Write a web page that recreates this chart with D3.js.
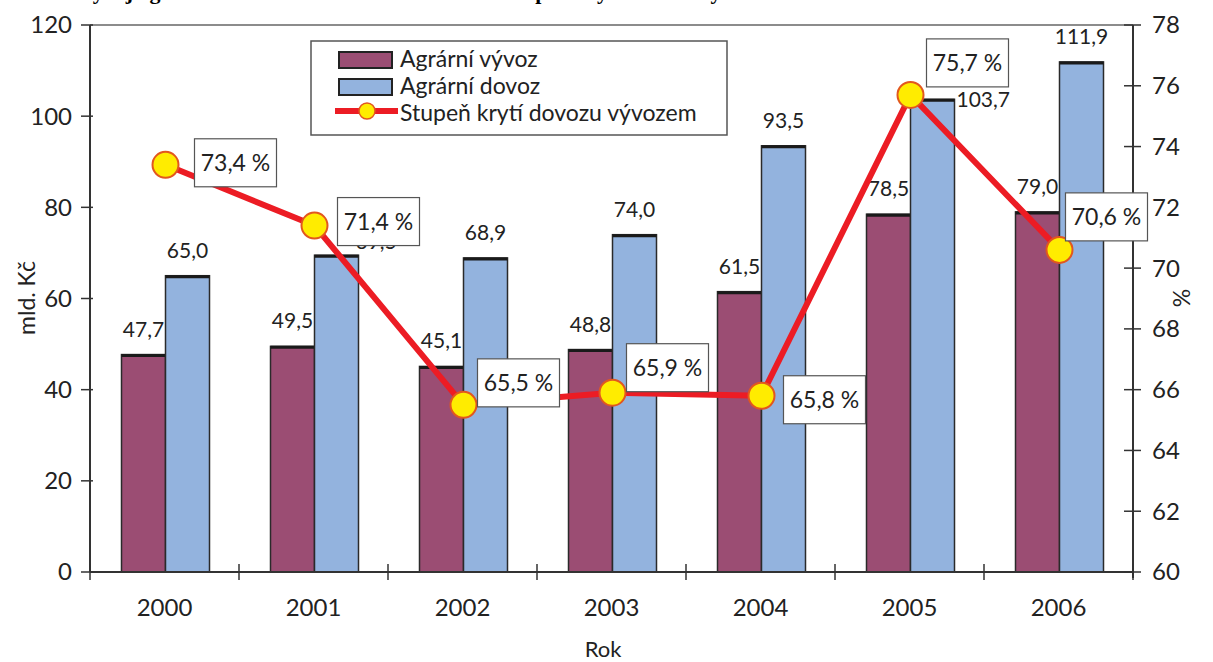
<!DOCTYPE html>
<html>
<head>
<meta charset="utf-8">
<script src="https://cdn.jsdelivr.net/npm/d3@7"></script>
<style>
  html, body { margin: 0; padding: 0; background: #fff; }
  svg { display: block; font-family: Lato, "Open Sans", sans-serif; }
</style>
</head>
<body>
<svg id="chart" width="1213" height="662"></svg>
<script>
// Chart data
const years = ['2000', '2001', '2002', '2003', '2004', '2005', '2006'];
const vyvoz = [47.7, 49.5, 45.1, 48.8, 61.5, 78.5, 79.0];
const dovoz = [65.0, 69.5, 68.9, 74.0, 93.5, 103.7, 111.9];
const kryti = [73.4, 71.4, 65.5, 65.9, 65.8, 75.7, 70.6];
const leftTicks = [0, 20, 40, 60, 80, 100, 120];
const rightTicks = [60, 62, 64, 66, 68, 70, 72, 74, 76, 78];
const seriesNames = ['Agrární vývoz', 'Agrární dovoz', 'Stupeň krytí dovozu vývozem'];

// Layout: where each percent box sits relative to its marker
const boxShift = [[70, -2], [64, -4], [55, -22], [55, -25], [63, 4], [57, -32], [47, -33]];

const colVyvoz = '#9b4d73';
const colDovoz = '#93b3de';
const colLine = '#ec1c24';

const svg = d3.select('#chart');
const plotLeft = 90, plotRight = 1133, plotTop = 25, plotBottom = 572;

const x = d3.scaleBand().domain(years).range([plotLeft, plotRight]);
const y = d3.scaleLinear().domain([0, 120]).range([plotBottom, plotTop]);
const y2 = d3.scaleLinear().domain([60, 78]).range([plotBottom, plotTop]);
const fmt = v => d3.format('.1f')(v).replace('.', ',');
const barW = 44;
const cx = d => x(d) + x.bandwidth() / 2 + 1;

// Title, cut off by the top edge (only descenders show)
svg.append('text')
    .attr('x', 10).attr('y', -1)
    .attr('font-family', '"Liberation Serif", serif')
    .attr('font-weight', 'bold')
    .attr('font-size', 22)
    .text('Graf 1 Vývoj agrárního zahraničního obchodu ČR a stupeň krytí dovozu vývozem');

// Top frame line
svg.append('line')
    .attr('x1', plotLeft).attr('x2', plotRight)
    .attr('y1', plotTop).attr('y2', plotTop)
    .attr('stroke', '#8c8c8c').attr('stroke-width', 2);

// Bars
function drawBars(values, color, offset) {
    const g = svg.append('g');
    g.selectAll('rect')
        .data(years).enter().append('rect')
        .attr('x', d => cx(d) + offset)
        .attr('y', (d, i) => y(values[i]))
        .attr('width', barW)
        .attr('height', (d, i) => y(0) - y(values[i]))
        .attr('fill', color)
        .attr('stroke', '#2a2a2a')
        .attr('stroke-width', 1.5);
    g.selectAll('line')
        .data(years).enter().append('line')
        .attr('x1', d => cx(d) + offset)
        .attr('x2', d => cx(d) + offset + barW)
        .attr('y1', (d, i) => y(values[i]) + 1)
        .attr('y2', (d, i) => y(values[i]) + 1)
        .attr('stroke', '#1a1a1a')
        .attr('stroke-width', 3);
}
drawBars(vyvoz, colVyvoz, -barW);
drawBars(dovoz, colDovoz, 0);

// Bar value labels (2001 and 2005 import labels sit beside the bar top)
const labels = svg.append('g')
    .attr('font-size', 21)
    .attr('fill', '#222');
labels.selectAll('text.vy')
    .data(years).enter().append('text')
    .attr('class', 'vy')
    .attr('x', d => cx(d) - barW / 2)
    .attr('y', (d, i) => y(vyvoz[i]) - 18)
    .attr('text-anchor', 'middle')
    .text((d, i) => fmt(vyvoz[i]));
labels.selectAll('text.do')
    .data(years).enter().append('text')
    .attr('class', 'do')
    .attr('x', (d, i) => i === 5 ? cx(d) + barW + 2 : i === 1 ? cx(d) + barW - 3 : cx(d) + barW / 2)
    .attr('y', (d, i) => i === 5 ? y(dovoz[i]) + 8 : i === 1 ? y(dovoz[i]) - 6 : y(dovoz[i]) - 18)
    .attr('text-anchor', (d, i) => (i === 5 || i === 1) ? 'start' : 'middle')
    .text((d, i) => fmt(dovoz[i]));

// Axes lines
svg.append('line').attr('x1', plotLeft).attr('x2', plotLeft).attr('y1', plotTop).attr('y2', plotBottom)
    .attr('stroke', '#333').attr('stroke-width', 2);
svg.append('line').attr('x1', plotRight).attr('x2', plotRight).attr('y1', plotTop).attr('y2', plotBottom + 6)
    .attr('stroke', '#333').attr('stroke-width', 2);
svg.append('line').attr('x1', plotLeft).attr('x2', plotRight).attr('y1', plotBottom).attr('y2', plotBottom)
    .attr('stroke', '#333').attr('stroke-width', 2);

// Left axis
const la = svg.append('g').attr('font-size', 24).attr('fill', '#222');
la.selectAll('line').data(leftTicks).enter().append('line')
    .attr('x1', plotLeft - 9).attr('x2', plotLeft + 3)
    .attr('y1', d => y(d)).attr('y2', d => y(d))
    .attr('stroke', '#333').attr('stroke-width', 1.5);
la.selectAll('text').data(leftTicks).enter().append('text')
    .attr('x', plotLeft - 18).attr('y', d => y(d))
    .attr('dy', '0.35em')
    .attr('text-anchor', 'end')
    .text(d => d);

// Right axis
const ra = svg.append('g').attr('font-size', 24).attr('fill', '#222');
ra.selectAll('line').data(rightTicks).enter().append('line')
    .attr('x1', plotRight - 9).attr('x2', plotRight + 8)
    .attr('y1', d => y2(d)).attr('y2', d => y2(d))
    .attr('stroke', '#333').attr('stroke-width', 1.5);
ra.selectAll('text').data(rightTicks).enter().append('text')
    .attr('x', plotRight + 19).attr('y', d => y2(d))
    .attr('dy', '0.35em')
    .text(d => d);

// Bottom axis: ticks at band edges
const edges = years.map(d => x(d)).concat([plotRight]);
svg.append('g').selectAll('line').data(edges).enter().append('line')
    .attr('x1', d => d).attr('x2', d => d)
    .attr('y1', plotBottom - 8).attr('y2', plotBottom + 8)
    .attr('stroke', '#333').attr('stroke-width', 1.5);
svg.append('g').attr('font-size', 24).attr('fill', '#222')
    .selectAll('text').data(years).enter().append('text')
    .attr('x', d => x(d) + x.bandwidth() / 2)
    .attr('y', 616)
    .attr('text-anchor', 'middle')
    .text(d => d);

// Axis titles
svg.append('text').attr('x', 603).attr('y', 657)
    .attr('text-anchor', 'middle').attr('font-size', 22).attr('fill', '#222').text('Rok');
svg.append('text').attr('transform', 'translate(35,298) rotate(-90)')
    .attr('text-anchor', 'middle').attr('font-size', 23).attr('fill', '#222').text('mld. Kč');
svg.append('text').attr('transform', 'translate(1190,298) rotate(-90)')
    .attr('text-anchor', 'middle').attr('font-size', 23).attr('fill', '#222').text('%');

// Coverage line
const line = d3.line()
    .x((d, i) => cx(years[i]))
    .y(d => y2(d));
svg.append('path')
    .datum(kryti)
    .attr('d', line)
    .attr('fill', 'none')
    .attr('stroke', colLine)
    .attr('stroke-width', 6)
    .attr('stroke-linejoin', 'round');
svg.append('g').selectAll('circle')
    .data(kryti).enter().append('circle')
    .attr('cx', (d, i) => cx(years[i]))
    .attr('cy', d => y2(d))
    .attr('r', 13)
    .attr('fill', '#ffec00')
    .attr('stroke', '#e2571e')
    .attr('stroke-width', 2);

// Percent boxes
const boxes = svg.append('g');
kryti.forEach((v, i) => {
    const bx = cx(years[i]) + boxShift[i][0];
    const by = y2(v) + boxShift[i][1];
    boxes.append('rect')
        .attr('x', bx - 41).attr('y', by - 24)
        .attr('width', 82).attr('height', 48)
        .attr('fill', '#fff')
        .attr('stroke', '#555')
        .attr('stroke-width', 1.2);
    boxes.append('text')
        .attr('x', bx).attr('y', by)
        .attr('dy', '0.35em')
        .attr('text-anchor', 'middle')
        .attr('font-size', 23)
        .attr('fill', '#222')
        .text(fmt(v) + ' %');
});

// Legend
const lg = svg.append('g');
lg.append('rect')
    .attr('x', 311).attr('y', 41).attr('width', 416).attr('height', 94)
    .attr('fill', '#fff').attr('stroke', '#555').attr('stroke-width', 1.5);
lg.append('rect').attr('x', 339).attr('y', 52).attr('width', 53).attr('height', 16)
    .attr('fill', colVyvoz).attr('stroke', '#222').attr('stroke-width', 2);
lg.append('rect').attr('x', 339).attr('y', 79).attr('width', 53).attr('height', 16)
    .attr('fill', colDovoz).attr('stroke', '#222').attr('stroke-width', 2);
lg.append('line').attr('x1', 335).attr('x2', 398).attr('y1', 111).attr('y2', 111)
    .attr('stroke', colLine).attr('stroke-width', 6);
lg.append('circle').attr('cx', 367).attr('cy', 111).attr('r', 8)
    .attr('fill', '#ffec00').attr('stroke', '#e2571e').attr('stroke-width', 1.5);
lg.selectAll('text').data(seriesNames).enter().append('text')
    .attr('x', 400)
    .attr('y', (d, i) => 67 + i * 27)
    .attr('font-size', 23)
    .attr('fill', '#222')
    .text(d => d);
</script>
</body>
</html>
